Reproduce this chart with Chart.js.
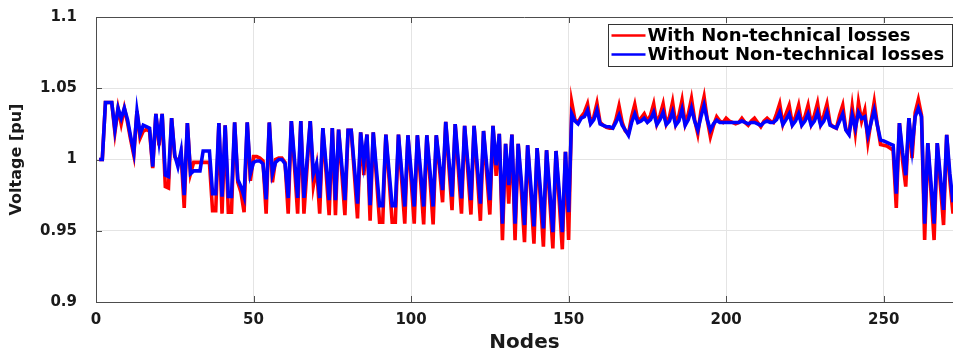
<!DOCTYPE html>
<html>
<head>
<meta charset="utf-8">
<script src="https://cdn.jsdelivr.net/npm/chart.js@4/dist/chart.umd.min.js"></script>
<style>
  html, body { margin: 0; padding: 0; background: #ffffff; overflow: hidden; }
  canvas { display: block; }
</style>
</head>
<body>
<canvas id="voltageChart" width="953" height="356"></canvas>
<script>
// Node voltage profile (pu), nodes 1..272
const withNTL = [
  1.000, 1.000, 1.040, 1.040, 1.040, 1.019, 1.036, 1.025, 1.036, 1.026,
  1.014, 1.003, 1.034, 1.015, 1.020, 1.021, 1.020, 0.994, 1.032, 1.010,
  1.032, 0.981, 0.980, 1.029, 1.002, 0.998, 1.004, 0.966, 1.0255, 0.990,
  0.998, 0.998, 0.998, 0.998, 0.998, 0.998, 0.964, 0.964, 1.0255, 0.962,
  1.024, 0.963, 0.963, 1.026, 0.984, 0.977, 0.963, 1.026, 0.985, 1.002,
  1.002, 1.001, 0.999, 0.962, 1.026, 0.984, 1.000, 1.001, 1.001, 0.998,
  0.962, 1.027, 0.995, 0.962, 1.027, 0.962, 0.995, 1.027, 0.982, 0.995,
  0.962, 1.022, 0.9915, 0.961, 1.022, 0.961, 1.021, 0.991, 0.961, 1.0205,
  1.0205, 0.990, 0.9586, 1.019, 0.989, 1.0175, 0.957, 1.019, 0.9875, 0.956,
  0.956, 1.0175, 0.987, 0.956, 0.956, 1.0175, 0.986, 0.955, 1.017, 0.986,
  0.955, 1.017, 0.986, 0.9544, 1.017, 0.986, 0.9544, 1.017, 0.994, 0.970,
  1.0264, 0.995, 0.9645, 1.0248, 0.993, 0.962, 1.0236, 0.992, 0.9614, 1.0236,
  0.990, 0.957, 1.020, 0.990, 0.9614, 1.0236, 0.9885, 1.018, 0.9434, 1.011,
  0.969, 1.0175, 0.9434, 1.011, 0.978, 0.942, 1.010, 0.976, 0.941, 1.008,
  0.973, 0.9388, 1.0065, 0.972, 0.9376, 1.006, 0.971, 0.937, 1.0054, 0.9435,
  1.040, 1.028, 1.026, 1.030, 1.033, 1.039, 1.026, 1.030, 1.0395, 1.026,
  1.024, 1.0225, 1.022, 1.022, 1.028, 1.0376, 1.026, 1.020, 1.018, 1.030,
  1.0386, 1.027, 1.029, 1.032, 1.027, 1.031, 1.039, 1.025, 1.031, 1.039,
  1.025, 1.030, 1.0404, 1.025, 1.031, 1.0416, 1.025, 1.032, 1.0428, 1.028,
  1.018, 1.034, 1.044, 1.028, 1.016, 1.024, 1.030, 1.027, 1.026, 1.029,
  1.027, 1.026, 1.025, 1.026, 1.029, 1.026, 1.024, 1.027, 1.029, 1.026,
  1.023, 1.027, 1.029, 1.027, 1.026, 1.032, 1.039, 1.025, 1.032, 1.038,
  1.025, 1.030, 1.038, 1.025, 1.030, 1.038, 1.025, 1.031, 1.0395, 1.025,
  1.031, 1.039, 1.025, 1.023, 1.022, 1.031, 1.038, 1.021, 1.018, 1.037,
  1.019, 1.040, 1.027, 1.0346, 1.0124, 1.027, 1.0404, 1.024, 1.0105, 1.010,
  1.0095, 1.008, 1.0065, 0.966, 1.0255, 0.999, 0.981, 1.029, 1.001, 1.033,
  1.042, 1.031, 0.9435, 1.0115, 0.978, 0.9435, 1.0115, 0.982, 0.954, 1.0173,
  0.985, 0.962
];

const withoutNTL = [
  1.000, 1.000, 1.040, 1.040, 1.040, 1.021, 1.036, 1.029, 1.036, 1.028,
  1.016, 1.005, 1.034, 1.018, 1.024, 1.023, 1.022, 0.995, 1.032, 1.013,
  1.032, 0.989, 0.988, 1.029, 1.003, 0.995, 1.006, 0.975, 1.0255, 0.990,
  0.992, 0.992, 0.992, 1.006, 1.006, 1.006, 0.976, 0.976, 1.0255, 0.974,
  1.024, 0.974, 0.974, 1.026, 0.986, 0.981, 0.974, 1.026, 0.990, 0.998,
  0.999, 0.999, 0.997, 0.972, 1.026, 0.990, 0.998, 1.000, 1.000, 0.997,
  0.973, 1.027, 1.000, 0.973, 1.027, 0.973, 1.000, 1.027, 0.990, 0.997,
  0.973, 1.022, 0.997, 0.9715, 1.022, 0.9715, 1.021, 0.996, 0.9715, 1.0205,
  1.0205, 0.995, 0.969, 1.019, 0.998, 1.0175, 0.968, 1.019, 0.993, 0.9675,
  0.9675, 1.0175, 0.992, 0.9675, 0.9675, 1.0175, 0.992, 0.967, 1.017, 0.992,
  0.967, 1.017, 0.992, 0.967, 1.017, 0.992, 0.967, 1.017, 0.998, 0.9785,
  1.0264, 1.000, 0.974, 1.0248, 0.999, 0.9727, 1.0236, 0.998, 0.9715, 1.0236,
  0.996, 0.969, 1.020, 0.996, 0.9715, 1.0236, 0.996, 1.018, 0.955, 1.011,
  0.982, 1.0175, 0.955, 1.011, 0.985, 0.954, 1.010, 0.982, 0.953, 1.008,
  0.980, 0.9516, 1.0065, 0.978, 0.949, 1.006, 0.978, 0.949, 1.0054, 0.963,
  1.032, 1.027, 1.025, 1.029, 1.030, 1.0346, 1.025, 1.028, 1.0346, 1.025,
  1.024, 1.023, 1.023, 1.022, 1.026, 1.031, 1.024, 1.0206, 1.017, 1.026,
  1.032, 1.026, 1.027, 1.029, 1.026, 1.028, 1.033, 1.0245, 1.028, 1.033,
  1.0245, 1.027, 1.0335, 1.024, 1.027, 1.035, 1.024, 1.028, 1.036, 1.027,
  1.0206, 1.030, 1.038, 1.028, 1.0206, 1.025, 1.0276, 1.026, 1.026, 1.026,
  1.026, 1.026, 1.026, 1.026, 1.027, 1.026, 1.025, 1.026, 1.026, 1.025,
  1.024, 1.026, 1.027, 1.026, 1.026, 1.028, 1.033, 1.0245, 1.028, 1.032,
  1.024, 1.027, 1.032, 1.024, 1.027, 1.032, 1.024, 1.027, 1.033, 1.024,
  1.027, 1.033, 1.024, 1.023, 1.022, 1.027, 1.032, 1.0206, 1.0175, 1.031,
  1.022, 1.033, 1.0287, 1.030, 1.017, 1.026, 1.0346, 1.024, 1.0136, 1.013,
  1.012, 1.011, 1.010, 0.976, 1.0255, 1.005, 0.989, 1.029, 1.008, 1.030,
  1.036, 1.030, 0.955, 1.0115, 0.984, 0.955, 1.0115, 0.988, 0.9647, 1.0173,
  0.990, 0.970
];

const seriesLabels = ['With Non-technical losses', 'Without Non-technical losses'];
const seriesColors = ['#ff0000', '#0000ff'];
const xTickValues = [0, 50, 100, 150, 200, 250];
const yTickValues = [0.9, 0.95, 1, 1.05, 1.1];
const yTickLabels = ['0.9', '0.95', '1', '1.05', '1.1'];

const nodes = withNTL.map((_, i) => i + 1);
const toPoints = (values) => values.map((v, i) => ({ x: nodes[i], y: v }));

const FONT = "'DejaVu Sans', 'Liberation Sans', Arial, sans-serif";
const AXIS_COLOR = '#4d4d4d';
const GRID_COLOR = '#e4e4e4';

// Box outline and inward tick marks in the style of a MATLAB axes
const axesFrame = {
  id: 'axesFrame',
  beforeDatasetsDraw(chart) {
    const { ctx, chartArea: a, scales } = chart;
    ctx.save();
    ctx.strokeStyle = AXIS_COLOR;
    ctx.lineWidth = 1;
    ctx.beginPath();
    ctx.moveTo(a.left, a.top + 0.5);
    ctx.lineTo(a.right, a.top + 0.5);
    const tl = 6;
    xTickValues.forEach(v => {
      const x = Math.round(scales.x.getPixelForValue(v)) + 0.5;
      ctx.moveTo(x, a.bottom);
      ctx.lineTo(x, a.bottom - tl);
      ctx.moveTo(x, a.top);
      ctx.lineTo(x, a.top + tl);
    });
    yTickValues.forEach(v => {
      const y = Math.round(scales.y.getPixelForValue(v)) + 0.5;
      ctx.moveTo(a.left, y);
      ctx.lineTo(a.left + tl, y);
    });
    ctx.stroke();
    ctx.restore();
  }
};

// Boxed legend in the upper right of the plot area
const boxLegend = {
  id: 'boxLegend',
  afterDraw(chart) {
    const { ctx } = chart;
    const box = { x: 608.5, y: 24.5, w: 344, h: 42 };
    ctx.save();
    ctx.fillStyle = '#ffffff';
    ctx.fillRect(box.x, box.y, box.w, box.h);
    ctx.strokeStyle = '#333333';
    ctx.lineWidth = 1;
    ctx.strokeRect(box.x, box.y, box.w, box.h);
    ctx.font = `bold 18px ${FONT}`;
    ctx.textBaseline = 'middle';
    ctx.textAlign = 'left';
    chart.data.datasets.forEach((ds, i) => {
      const y = box.y + 11 + i * 19;
      ctx.strokeStyle = ds.borderColor;
      ctx.lineWidth = 2.5;
      ctx.beginPath();
      ctx.moveTo(box.x + 3, y);
      ctx.lineTo(box.x + 37, y);
      ctx.stroke();
      ctx.fillStyle = '#000000';
      ctx.fillText(ds.label, box.x + 39, y + 1);
    });
    ctx.restore();
  }
};

new Chart(document.getElementById('voltageChart'), {
  type: 'line',
  data: {
    datasets: [
      {
        label: seriesLabels[0],
        data: toPoints(withNTL),
        borderColor: seriesColors[0],
        backgroundColor: seriesColors[0],
        borderWidth: 3.6,
        pointRadius: 0,
        tension: 0,
        order: 2
      },
      {
        label: seriesLabels[1],
        data: toPoints(withoutNTL),
        borderColor: seriesColors[1],
        backgroundColor: seriesColors[1],
        borderWidth: 3.6,
        pointRadius: 0,
        tension: 0,
        order: 1
      }
    ]
  },
  options: {
    responsive: false,
    animation: false,
    devicePixelRatio: 1,
    layout: { padding: { top: 17, right: 0, bottom: 0, left: 0 } },
    plugins: {
      legend: { display: false },
      tooltip: { enabled: false }
    },
    scales: {
      x: {
        type: 'linear',
        min: 0,
        max: 272,
        afterBuildTicks: (s) => { s.ticks = xTickValues.map(v => ({ value: v })); },
        afterFit: (s) => { s.height = 54; s.paddingLeft = 0; s.paddingRight = 0; },
        ticks: {
          autoSkip: false,
          maxRotation: 0,
          padding: 9,
          color: '#1a1a1a',
          font: { family: FONT, size: 15, weight: 'bold' },
          callback: (v) => String(v)
        },
        grid: {
          drawTicks: false,
          lineWidth: 1,
          color: (c) => (c.tick && c.tick.value === 0) ? 'rgba(0,0,0,0)' : GRID_COLOR
        },
        border: { display: true, color: AXIS_COLOR, width: 1 },
        title: {
          display: true,
          text: 'Nodes',
          color: '#1a1a1a',
          font: { family: FONT, size: 20, weight: 'bold' },
          padding: { top: 0, bottom: 1 }
        }
      },
      y: {
        type: 'linear',
        min: 0.9,
        max: 1.1,
        afterBuildTicks: (s) => { s.ticks = yTickValues.map(v => ({ value: v })); },
        afterFit: (s) => { s.width = 96; s.paddingTop = 0; s.paddingBottom = 0; },
        ticks: {
          padding: 19,
          color: '#1a1a1a',
          font: { family: FONT, size: 15, weight: 'bold' },
          callback: (v, i) => yTickLabels[i]
        },
        grid: {
          drawTicks: false,
          lineWidth: 1,
          color: (c) => (c.tick && (c.tick.value === 0.9 || c.tick.value === 1.1)) ? 'rgba(0,0,0,0)' : GRID_COLOR
        },
        border: { display: true, color: AXIS_COLOR, width: 1 },
        title: {
          display: true,
          text: 'Voltage [pu]',
          color: '#1a1a1a',
          font: { family: FONT, size: 16, weight: 'bold' },
          padding: { top: 7, bottom: 0 }
        }
      }
    }
  },
  plugins: [axesFrame, boxLegend]
});
</script>
</body>
</html>
